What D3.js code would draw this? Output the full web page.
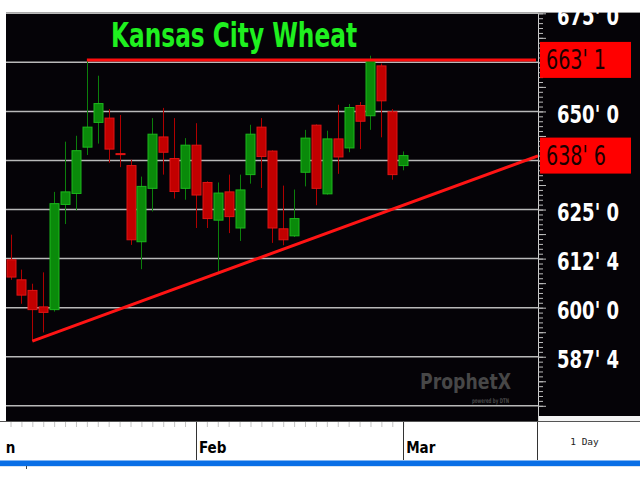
<!DOCTYPE html>
<html>
<head>
<meta charset="utf-8">
<script src="https://cdn.jsdelivr.net/npm/d3@7/dist/d3.min.js"></script>
<style>
  html, body { margin: 0; padding: 0; background: #ffffff; }
  svg { display: block; }
</style>
</head>
<body>
<svg id="chart" width="640" height="480"></svg>
<script>
// ---------------- DATA ----------------
const title = "Kansas City Wheat";
const sessions = ["2021-01-04","2021-01-05","2021-01-06","2021-01-07","2021-01-08","2021-01-11","2021-01-12","2021-01-13","2021-01-14","2021-01-15","2021-01-19","2021-01-20","2021-01-21","2021-01-22","2021-01-25","2021-01-26","2021-01-27","2021-01-28","2021-01-29","2021-02-01","2021-02-02","2021-02-03","2021-02-04","2021-02-05","2021-02-08","2021-02-09","2021-02-10","2021-02-11","2021-02-12","2021-02-16","2021-02-17","2021-02-18","2021-02-19","2021-02-22","2021-02-23","2021-02-24","2021-02-25","2021-02-26","2021-03-01"];
const candleDates = sessions.slice(2);
const openP  = [612.2, 607.1, 604.4, 600.2, 599.5, 626.3, 629.1, 640.9, 647.2, 648.3, 639.25, 636.2, 616.8, 630.4, 643.5, 638.0, 630.4, 641.4, 631.9, 622.3, 629.5, 620.3, 633.9, 646.0, 639.9, 620.1, 618.3, 634.5, 646.5, 629.0, 643.0, 640.7, 651.5, 648.9, 661.6, 649.9, 636.2];
const highP  = [618.6, 609.7, 606.1, 609.0, 629.5, 642.3, 643.8, 663.125, 659.1, 650.6, 649.1, 637.7, 633.4, 648.3, 650.9, 648.3, 643.2, 647.0, 632.2, 631.9, 633.9, 633.9, 646.6, 648.3, 640.1, 631.1, 630.1, 645.3, 646.7, 645.1, 651.7, 651.9, 652.4, 664.2, 662.2, 650.6, 639.8];
const lowP   = [607.1, 601.0, 591.5, 593.7, 599.0, 621.3, 624.8, 638.9, 641.8, 636.9, 635.8, 616.0, 609.8, 624.5, 633.9, 627.8, 627.5, 620.3, 620.3, 609.2, 619.0, 617.0, 631.6, 630.5, 616.5, 615.9, 618.0, 630.9, 626.1, 628.8, 634.1, 639.6, 640.4, 645.3, 643.4, 632.6, 635.0];
const closeP = [607.8, 603.2, 599.5, 598.8, 626.5, 629.5, 640.0, 646.0, 652.0, 640.4, 639.0, 617.3, 630.9, 644.2, 639.6, 629.6, 641.4, 628.7, 622.7, 629.2, 623.2, 630.0, 644.2, 638.5, 620.3, 617.3, 622.7, 643.2, 630.4, 643.0, 638.4, 651.0, 647.5, 663.0, 652.7, 633.9, 638.75];
const gridValues  = [575, 587.5, 600, 612.5, 625, 637.5, 650, 662.5, 675];
const labelValues = [587.5, 600, 612.5, 625, 650, 675];
const monthLabels = ["Jan", "Feb", "Mar"];
const monthStarts = ["2021-01-04", "2021-02-01", "2021-03-01"];
const resistanceDate = "2021-01-15";
const resistancePrice = 663.125;
const trendDates  = ["2021-01-08", "2021-02-03"];
const trendPrices = [591.5, 608.8];
const markerPrices = [663.125, 638.75];
const periodLabel = "1 Day";

// ---------------- LAYOUT ----------------
const W = 640, H = 480;
const plotL = 6, plotR = 538, plotT = 13, plotB = 422;
const svg = d3.select("#chart");

const x = d3.scalePoint().domain(sessions).range([-11.3, 403.2]);
const y = d3.scaleLinear().domain([575, 675]).range([405.8, 13.3]);

const fmt = v => { const w = Math.floor(v + 1e-9); return w + "' " + Math.round((v - w) * 8); };

// backgrounds
svg.append("rect").attr("x", 0).attr("y", 0).attr("width", W).attr("height", H).attr("fill", "#ffffff");
svg.append("rect").attr("x", plotL).attr("y", plotT).attr("width", W - plotL).attr("height", plotB - plotT).attr("fill", "#050307");
svg.append("rect").attr("x", plotR).attr("y", 416).attr("width", W - plotR).attr("height", 5).attr("fill", "#f4f4f4");
svg.append("line").attr("x1", plotL).attr("x2", W).attr("y1", 12.5).attr("y2", 12.5).attr("stroke", "#9a9a9a").attr("stroke-width", 1);

const defs = svg.append("defs");
defs.append("clipPath").attr("id", "plotClip").append("rect")
  .attr("x", plotL).attr("y", plotT).attr("width", plotR - plotL).attr("height", plotB - plotT);
defs.append("clipPath").attr("id", "axisClip").append("rect")
  .attr("x", plotL).attr("y", plotB).attr("width", plotR - plotL).attr("height", 40);

// gridlines
svg.append("g").selectAll("line").data(gridValues).join("line")
  .attr("x1", plotL).attr("x2", plotR)
  .attr("y1", d => y(d)).attr("y2", d => y(d))
  .attr("stroke", "#b9b9b9").attr("stroke-width", 1.5);

// candles
const plot = svg.append("g").attr("clip-path", "url(#plotClip)");
const candles = candleDates.map((d, i) => ({ date: d, o: openP[i], h: highP[i], l: lowP[i], c: closeP[i] }));
const bodyW = 9;
const cg = plot.append("g").selectAll("g").data(candles).join("g");
cg.append("line")
  .attr("x1", d => Math.round(x(d.date)) + 0.5).attr("x2", d => Math.round(x(d.date)) + 0.5)
  .attr("y1", d => y(d.h)).attr("y2", d => y(d.l))
  .attr("stroke", d => d.c >= d.o ? "#0b7f0b" : "#b00000").attr("stroke-width", 1);
cg.append("rect")
  .attr("x", d => Math.round(x(d.date)) + 0.5 - bodyW / 2)
  .attr("y", d => y(Math.max(d.o, d.c)))
  .attr("width", bodyW)
  .attr("height", d => Math.max(1, Math.abs(y(d.o) - y(d.c))))
  .attr("fill", d => d.c >= d.o ? "#0a8a0a" : "#c20000")
  .attr("stroke", d => d.c >= d.o ? "#1cb81c" : "#e01414").attr("stroke-width", 1);

// resistance line
plot.append("line")
  .attr("x1", x(resistanceDate)).attr("x2", plotR - 2)
  .attr("y1", y(resistancePrice)).attr("y2", y(resistancePrice))
  .attr("stroke", "#ff0d0d").attr("stroke-width", 3);

// trendline (through two lows, extended to the price axis)
const tx0 = x(trendDates[0]), ty0 = y(trendPrices[0]);
const tx1 = x(trendDates[1]), ty1 = y(trendPrices[1]);
const slope = (ty1 - ty0) / (tx1 - tx0);
plot.append("line")
  .attr("x1", tx0).attr("y1", ty0)
  .attr("x2", plotR).attr("y2", ty0 + slope * (plotR - tx0))
  .attr("stroke", "#ff1414").attr("stroke-width", 3);

// ProphetX watermark
const wm = svg.append("g");
wm.append("text").attr("x", 420).attr("y", 389).text("ProphetX")
  .attr("font-family", "'DejaVu Sans', sans-serif").attr("font-weight", "bold")
  .attr("font-size", 21).attr("fill", "#474747")
  .attr("textLength", 91).attr("lengthAdjust", "spacingAndGlyphs");
wm.append("text").attr("x", 472).attr("y", 402.5).text("powered by DTN")
  .attr("font-family", "'DejaVu Sans', sans-serif").attr("font-weight", "bold")
  .attr("font-size", 6.5).attr("fill", "#474747")
  .attr("textLength", 37).attr("lengthAdjust", "spacingAndGlyphs");

// right axis ruler
const ruler = svg.append("g").attr("transform", `translate(${plotR},0)`)
  .call(d3.axisRight(y).tickValues(d3.range(575, 675.01, 1.25)).tickSize(5).tickFormat(""));
ruler.selectAll("line").attr("stroke", "#bdbdbd");
ruler.select(".domain").attr("stroke", "#cfcfcf").attr("d", `M0.5,${plotT}V${plotB}`);
svg.append("g").attr("transform", `translate(${plotR},0)`)
  .call(d3.axisRight(y).tickValues(d3.range(575, 675.01, 6.25)).tickSize(8).tickFormat(""))
  .call(g => g.select(".domain").remove())
  .selectAll("line").attr("stroke", "#bdbdbd");

// right axis labels
const yLab = svg.append("g").attr("transform", `translate(${plotR},0)`)
  .call(d3.axisRight(y).tickValues(labelValues).tickSize(0).tickPadding(19).tickFormat(fmt));
yLab.select(".domain").remove();
yLab.selectAll("text")
  .attr("fill", "#ffffff").attr("font-family", "'Liberation Sans Narrow', 'DejaVu Sans Condensed', sans-serif")
  .attr("font-weight", "bold").attr("font-size", 25)
  .attr("dy", "0.45em")
  .attr("textLength", 62).attr("lengthAdjust", "spacingAndGlyphs");

// top white strip (cuts the highest label)
svg.append("rect").attr("x", 0).attr("y", 0).attr("width", W).attr("height", 12).attr("fill", "#ffffff");

// price markers
const mk = svg.append("g").selectAll("g").data(markerPrices).join("g")
  .attr("transform", d => `translate(540,${y(d)})`);
mk.append("rect").attr("x", 0).attr("y", -18).attr("width", 91).attr("height", 36).attr("fill", "#ff0000");
mk.append("text").attr("x", 6).attr("y", 9).text(d => fmt(d))
  .attr("fill", "#1a0000").attr("font-family", "'Liberation Sans Narrow', 'DejaVu Sans Condensed', sans-serif")
  .attr("font-size", 26)
  .attr("textLength", 60).attr("lengthAdjust", "spacingAndGlyphs");

// title
svg.append("text").attr("x", 111).attr("y", 47).text(title)
  .attr("fill", "#1ff01f").attr("font-family", "'DejaVu Sans Condensed', 'DejaVu Sans', sans-serif")
  .attr("font-weight", "bold").attr("font-size", 33)
  .attr("textLength", 246).attr("lengthAdjust", "spacingAndGlyphs");

// left white strip
svg.append("rect").attr("x", 0).attr("y", 0).attr("width", plotL).attr("height", plotB).attr("fill", "#ffffff");

// bottom axis area
svg.append("line").attr("x1", 0).attr("x2", W).attr("y1", 421.5).attr("y2", 421.5).attr("stroke", "#555").attr("stroke-width", 1);
const xAx = svg.append("g").attr("transform", `translate(0,${plotB})`)
  .call(d3.axisBottom(x).tickValues(candleDates).tickSize(5).tickFormat(""));
xAx.select(".domain").remove();
xAx.selectAll("line").attr("stroke", "#c4c4c4");

// month dividers and labels (clipped to the time-axis panel)
const months = monthLabels.map((m, i) => ({ label: m, date: monthStarts[i] }));
const mg = svg.append("g").attr("clip-path", "url(#axisClip)");
mg.append("g").selectAll("line").data(months).join("line")
  .attr("x1", d => Math.round(x(d.date)) + 0.5).attr("x2", d => Math.round(x(d.date)) + 0.5)
  .attr("y1", plotB).attr("y2", 460).attr("stroke", "#333").attr("stroke-width", 1);
mg.append("g").selectAll("text").data(months).join("text")
  .attr("x", d => x(d.date) + 3).attr("y", 453)
  .text(d => d.label)
  .attr("font-family", "'DejaVu Sans Condensed', 'DejaVu Sans', sans-serif").attr("font-weight", "bold")
  .attr("font-size", 15).attr("fill", "#000");

// right-bottom period box
svg.append("line").attr("x1", plotR - 0.5).attr("x2", plotR - 0.5).attr("y1", plotB).attr("y2", 460).attr("stroke", "#333");
svg.append("text").attr("x", 584.5).attr("y", 445).attr("text-anchor", "middle").text(periodLabel)
  .attr("font-family", "'DejaVu Sans Mono', monospace").attr("font-size", 9.5).attr("fill", "#222");

// blue status bar
svg.append("rect").attr("x", 0).attr("y", 460.5).attr("width", W).attr("height", 5.5).attr("fill", "#0a6fe6");
svg.append("line").attr("x1", 0).attr("x2", W).attr("y1", 466.5).attr("y2", 466.5).attr("stroke", "#d6e4f4");
svg.append("line").attr("x1", 26.5).attr("x2", 26.5).attr("y1", 466).attr("y2", 469).attr("stroke", "#444");
</script>
</body>
</html>
